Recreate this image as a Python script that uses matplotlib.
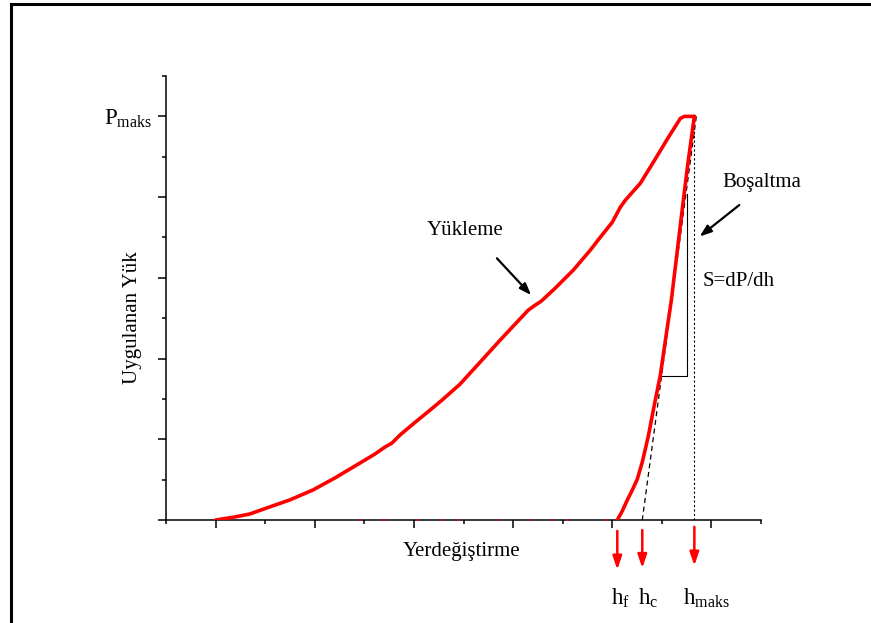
import matplotlib
matplotlib.use("Agg")
import matplotlib.pyplot as plt
from matplotlib.lines import Line2D
from matplotlib.ticker import MultipleLocator

plt.rcParams['font.family'] = ['Liberation Serif', 'DejaVu Serif']
plt.rcParams['mathtext.fontset'] = 'custom'
plt.rcParams['mathtext.rm'] = 'Liberation Serif'
plt.rcParams['mathtext.it'] = 'Liberation Serif:italic'

# yukleme egrisi (yerdegistirme, yuk)
yukleme_h = [0.0, 0.192, 0.343, 0.515, 0.747, 0.980, 1.202, 1.455, 1.606, 1.707,
             1.778, 1.859, 1.990, 2.162, 2.283, 2.465, 2.667, 2.869, 3.020, 3.152,
             3.222, 3.283, 3.424, 3.606, 3.778, 3.879, 4.000, 4.081, 4.131, 4.202,
             4.283, 4.414, 4.566, 4.687, 4.727, 4.828]
yukleme_p = [0.0, 0.037, 0.074, 0.149, 0.248, 0.371, 0.520, 0.705, 0.817, 0.903,
             0.953, 1.052, 1.188, 1.361, 1.485, 1.683, 1.955, 2.228, 2.426, 2.599,
             2.661, 2.710, 2.871, 3.094, 3.342, 3.502, 3.688, 3.874, 3.960, 4.059,
             4.171, 4.431, 4.740, 4.975, 5.0, 5.0]

# bosaltma egrisi
bosaltma_h = [4.828, 4.788, 4.758, 4.717, 4.677, 4.636, 4.596, 4.545, 4.485, 4.424,
              4.364, 4.303, 4.253, 4.202, 4.152, 4.101, 4.051]
bosaltma_p = [5.0, 4.641, 4.369, 3.960, 3.552, 3.131, 2.723, 2.302, 1.795, 1.423,
              1.040, 0.718, 0.507, 0.371, 0.248, 0.111, 0.0]

# eksen uzerindeki dagınık olcum noktalari
nokta_h = [1.455, 1.697, 2.030, 2.283, 2.444, 2.859, 3.182, 3.394, 3.545, 3.939]
nokta_p = [0, 0, 0, 0, 0, 0, 0, 0, 0, 0]

p_maks = 5.0
h_f = 4.051
h_c = 4.303
h_maks = 4.828

fig = plt.figure(figsize=(8.71, 6.23), dpi=100)
ax = fig.add_axes([0.1906, 0.1653, 0.6831, 0.7127])

ax.plot(yukleme_h, yukleme_p, color='red', lw=2.6, solid_capstyle='round',
        solid_joinstyle='round', zorder=3)
ax.plot(bosaltma_h, bosaltma_p, color='red', lw=2.6, solid_capstyle='round',
        solid_joinstyle='round', zorder=3)
ax.plot(nokta_h, nokta_p, 's', color='red', ms=1.8, mew=0, zorder=3, clip_on=False)

# teget (S=dP/dh) ve h_maks cizgisi
ax.plot([h_maks + 0.02, h_c], [p_maks, 0], color='black', lw=0.9, ls=(0, (4, 3)), zorder=2)
ax.plot([h_maks, h_maks], [0, p_maks], color='black', lw=0.8, ls=(0, (2, 2)), zorder=2)

# egim ucgeni
ax.plot([4.505, 4.758, 4.758], [1.78, 1.78, 4.04], color='black', lw=0.8, zorder=2)

ax.set_xlim(-0.5, 5.5)
ax.set_ylim(0, 5.5)
ax.xaxis.set_major_locator(MultipleLocator(1))
ax.xaxis.set_minor_locator(MultipleLocator(0.5))
ax.yaxis.set_major_locator(MultipleLocator(1))
ax.yaxis.set_minor_locator(MultipleLocator(0.5))
ax.set_xticklabels([])
ax.set_yticks([0, 1, 2, 3, 4, 5])
ax.set_yticklabels(['', '', '', '', '', r'P$_{\mathrm{maks}}$'], fontsize=16.5)
ax.tick_params(which='major', length=6, width=1.1, direction='out', pad=4)
ax.tick_params(which='minor', length=3, width=1.1, direction='out')

for s in ['top', 'right']:
    ax.spines[s].set_visible(False)
for s in ['left', 'bottom']:
    ax.spines[s].set_linewidth(1.1)

ax.set_xlabel('Yerdeğiştirme', fontsize=15)
ax.set_ylabel('Uygulanan Yük', fontsize=15)
ax.xaxis.set_label_coords(0.496, -0.05)
ax.yaxis.set_label_coords(-0.04, 0.455)

# aciklamalar
ax.text(2.515, 3.589, 'Yükleme', fontsize=15, ha='center', va='center')
ax.annotate('', xy=(3.202, 2.76), xytext=(2.818, 3.267),
            arrowprops=dict(arrowstyle='-|>,head_length=0.7,head_width=0.25',
                            color='black', lw=1.6))
ax.text(5.505, 4.183, 'Boşaltma', fontsize=15, ha='center', va='center', clip_on=False)
ax.annotate('', xy=(4.859, 3.49), xytext=(5.303, 3.923), annotation_clip=False,
            arrowprops=dict(arrowstyle='-|>,head_length=0.7,head_width=0.25',
                            color='black', lw=1.6))
ax.text(5.273, 2.958, 'S=dP/dh', fontsize=15, ha='center', va='center', clip_on=False)

# eksen altindaki kirmizi oklar
for h, y0, y1, etiket, dx in [(h_f, -0.1, -0.65, r'h$_{\mathrm{f}}$', 0.03),
                              (h_c, -0.09, -0.63, r'h$_{\mathrm{c}}$', 0.06),
                              (h_maks, -0.05, -0.6, r'h$_{\mathrm{maks}}$', 0.12)]:
    ax.annotate('', xy=(h, y1), xytext=(h, y0), annotation_clip=False,
                arrowprops=dict(arrowstyle='-|>,head_length=0.8,head_width=0.27',
                                color='red', lw=1.8))
    ax.text(h + dx, -0.97, etiket, fontsize=16.5, ha='center', va='center', clip_on=False)

# cerceve
fig.add_artist(Line2D([10.5 / 871, 10.5 / 871], [0, 1 - 3.5 / 623], color='black', lw=2.2))
fig.add_artist(Line2D([10.5 / 871, 1], [1 - 3.5 / 623, 1 - 3.5 / 623], color='black', lw=2.2))

fig.savefig('out.png', dpi=100)
